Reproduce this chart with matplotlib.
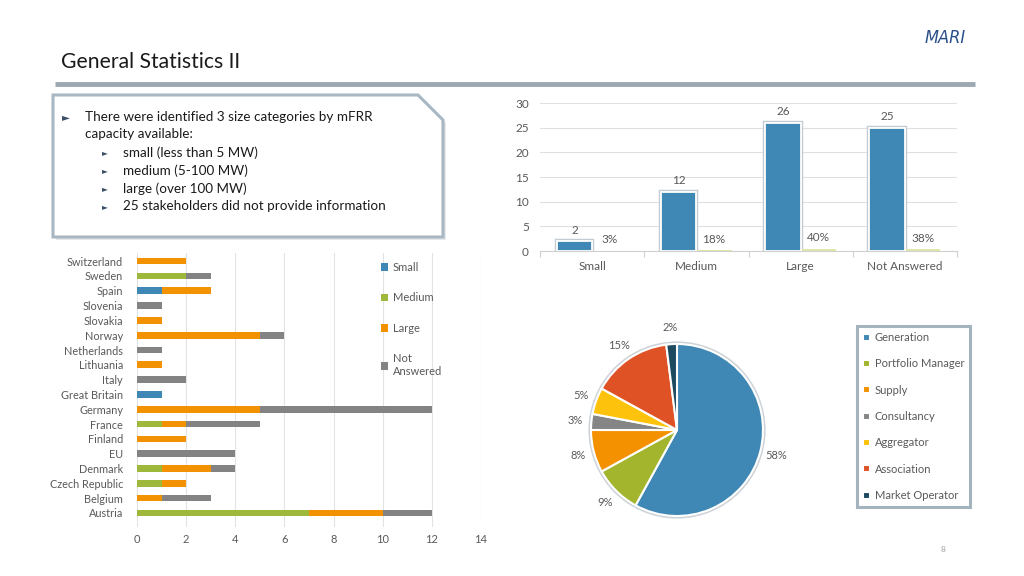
import numpy as np
import matplotlib
matplotlib.use("Agg")
import matplotlib.pyplot as plt
from matplotlib.patches import Polygon, Circle

plt.rcParams['font.family'] = ['Lato', 'DejaVu Sans']

# ---------------- data ----------------
size_cats = ["Small", "Medium", "Large", "Not Answered"]
size_counts = [2, 12, 26, 25]
size_share = [0.03, 0.18, 0.40, 0.38]

countries = ["Austria", "Belgium", "Czech Republic", "Denmark", "EU", "Finland",
             "France", "Germany", "Great Britain", "Italy", "Lithuania",
             "Netherlands", "Norway", "Slovakia", "Slovenia", "Spain", "Sweden",
             "Switzerland"]
small_c = [0, 0, 0, 0, 0, 0, 0, 0, 1, 0, 0, 0, 0, 0, 0, 1, 0, 0]
medium_c = [7, 0, 1, 1, 0, 0, 1, 0, 0, 0, 0, 0, 0, 0, 0, 0, 2, 0]
large_c = [3, 1, 1, 2, 0, 2, 1, 5, 0, 0, 1, 0, 5, 1, 0, 2, 0, 2]
notans_c = [2, 2, 0, 1, 4, 0, 3, 7, 0, 2, 0, 1, 1, 0, 1, 0, 1, 0]
hbar_series = ["Small", "Medium", "Large", "Not\nAnswered"]
hbar_ticks = [0, 2, 4, 6, 8, 10, 12, 14]

pie_labels = ["Generation", "Portfolio Manager", "Supply", "Consultancy",
              "Aggregator", "Association", "Market Operator"]
pie_values = [58, 9, 8, 3, 5, 15, 2]

# ---------------- styles ----------------
BLUE = '#3F87B5'
GREEN = '#9DB83A'
ORANGE = '#F39200'
GREY = '#838383'
pie_colors = ['#3F87B5', '#A2B52C', '#F49100', '#858585', '#FDC20C', '#DE5226', '#1E4A60']
TXT = '#595959'

W, H = 1024, 576
fig = plt.figure(figsize=(W / 100, H / 100), dpi=100)
fig.patch.set_facecolor('white')

def fx(x):
    return x / W

def fy(y):
    return 1 - y / H

# background / decoration axes in pixel coords
bg = fig.add_axes([0, 0, 1, 1], zorder=-1)
bg.set_xlim(0, W)
bg.set_ylim(H, 0)
bg.axis('off')

bg.text(61, 62, "General Statistics II", fontsize=15.2, color='#1a1a1a',
        va='center', ha='left')
bg.text(966, 38, "MARI", fontsize=13, color='#2B4F8A', style='italic',
        family='DejaVu Sans', fontstretch='condensed', va='center', ha='right')
bg.plot([55, 975], [84, 84], color='#9ea8b1', lw=3.5, solid_capstyle='butt')
bg.text(943, 549, "8", fontsize=6, color='#a0a0a0', ha='center', va='center')

# text box
shadow = Polygon([(56, 98), (421, 98), (446, 123), (446, 240), (56, 240)],
                 closed=True, facecolor='#e6e9ec', edgecolor='none')
bg.add_patch(shadow)
box = Polygon([(53, 95), (418, 95), (443, 120), (443, 237), (53, 237)],
              closed=True, facecolor='white', edgecolor='#a8b7c2', lw=2.2)
bg.add_patch(box)
bg.text(62, 117, "\u25BA", fontsize=7.5, color='#3a4f66', va='center', ha='left',
        family='DejaVu Sans')
bg.text(85, 117, "There were identified 3 size categories by mFRR", fontsize=9.7,
        color='#1a1a1a', va='center')
bg.text(85, 134, "capacity available:", fontsize=9.7, color='#1a1a1a', va='center')
subs = ["small (less than 5 MW)", "medium (5-100 MW)", "large (over 100 MW)",
        "25 stakeholders did not provide information"]
for i, s in enumerate(subs):
    yy = 153 + i * 17.7
    bg.text(102, yy, "\u25BA", fontsize=5.5, color='#3a4f66', va='center',
            family='DejaVu Sans')
    bg.text(123, yy, s, fontsize=9.7, color='#1a1a1a', va='center')

# ---------------- top-right column chart ----------------
ax1 = fig.add_axes([fx(540), fy(251), fx(957 - 540), (251 - 103) / H])
x = np.arange(len(size_cats))
off = 0.17
bw = 0.34
ax1.bar(x - off, size_counts, width=bw, color=BLUE, edgecolor='#c3ccd4', lw=3.2, zorder=3)
b1 = ax1.bar(x - off, size_counts, width=bw, color=BLUE, edgecolor='white', lw=1.3, zorder=4)
b2 = ax1.bar(x + off, size_share, width=bw, color='#dfe5a8', zorder=3)
ax1.bar_label(b1, labels=[str(v) for v in size_counts], padding=4, fontsize=8.5,
              color=TXT)
ax1.bar_label(b2, labels=[f"{v:.0%}" for v in size_share], padding=4, fontsize=8.5,
              color=TXT)
ax1.set_ylim(0, 30)
ax1.set_xlim(-0.5, 3.5)
ax1.set_yticks(range(0, 31, 5))
ax1.set_xticks(x)
ax1.set_xticklabels(size_cats)
ax1.set_xticks(np.arange(-0.5, 4.0, 1.0), minor=True)
ax1.tick_params(axis='x', which='major', length=0, labelsize=8.5, labelcolor=TXT, pad=7)
ax1.tick_params(axis='x', which='minor', length=4, color='#d0d0d0', width=0.8)
ax1.tick_params(axis='y', length=0, labelsize=8.5, labelcolor=TXT, pad=8)
ax1.grid(axis='y', color='#e0e0e0', lw=0.8, zorder=0)
ax1.set_axisbelow(True)
for s in ['top', 'right', 'left']:
    ax1.spines[s].set_visible(False)
ax1.spines['bottom'].set_color('#d0d0d0')

# ---------------- stacked horizontal bar chart ----------------
ax2 = fig.add_axes([fx(137), fy(527), fx(481 - 137), (527 - 253) / H])
y = np.arange(len(countries))
left = np.zeros(len(countries))
bh = 0.45
for vals, col, lab in zip([small_c, medium_c, large_c, notans_c],
                          [BLUE, GREEN, ORANGE, GREY], hbar_series):
    v = np.array(vals, dtype=float)
    ax2.barh(y, v, left=left, height=bh, color=col, label=lab, zorder=3)
    left = left + v
ax2.set_xlim(0, 14)
ax2.set_ylim(-0.95, len(countries) - 0.45)
ax2.set_yticks(y)
ax2.set_yticklabels(countries)
ax2.set_xticks(hbar_ticks)
ax2.tick_params(axis='y', length=0, labelsize=7.8, labelcolor=TXT, pad=10)
ax2.tick_params(axis='x', length=0, labelsize=8, labelcolor=TXT, pad=5)
ax2.grid(axis='x', color='#e3e3e3', lw=0.8, zorder=0)
ax2.set_axisbelow(True)
for s in ax2.spines.values():
    s.set_visible(False)
leg2 = ax2.legend(loc='upper left', bbox_to_anchor=(fx(381), fy(262)),
                  bbox_transform=fig.transFigure, frameon=False, fontsize=8,
                  labelspacing=1.75, handlelength=0.65, handleheight=0.65,
                  handletextpad=0.4, borderpad=0, borderaxespad=0)
for t in leg2.get_texts():
    t.set_color(TXT)

# ---------------- pie chart ----------------
cx, cy, R = 677, 430, 86
half = 130
ax3 = fig.add_axes([fx(cx - half), fy(cy + half), fx(2 * half), 2 * half / H])
ax3.set_aspect('equal')
ax3.axis('off')
ax3.add_patch(Circle((0, 0), 1.03, facecolor='#cdd3d8', edgecolor='none', zorder=0))
wedges, texts, autotexts = ax3.pie(
    pie_values, colors=pie_colors, startangle=90, counterclock=False,
    autopct='%.0f%%', pctdistance=1.19,
    wedgeprops=dict(edgecolor='white', lw=1.5), radius=1.0,
    textprops=dict(fontsize=8, color=TXT))
ax3.set_xlim(-half / R, half / R)
ax3.set_ylim(-half / R, half / R)

leg3 = fig.legend(wedges, pie_labels, loc='upper left',
                  bbox_to_anchor=(fx(857), fy(326)), frameon=True, fontsize=8,
                  labelspacing=1.38, handlelength=0.6, handleheight=0.6,
                  handletextpad=0.45, borderpad=0.55, borderaxespad=0,
                  fancybox=False)
leg3.get_frame().set_edgecolor('#8ea1ae')
leg3.get_frame().set_linewidth(2.2)
for t in leg3.get_texts():
    t.set_color(TXT)

fig.savefig("out.png", dpi=100)
